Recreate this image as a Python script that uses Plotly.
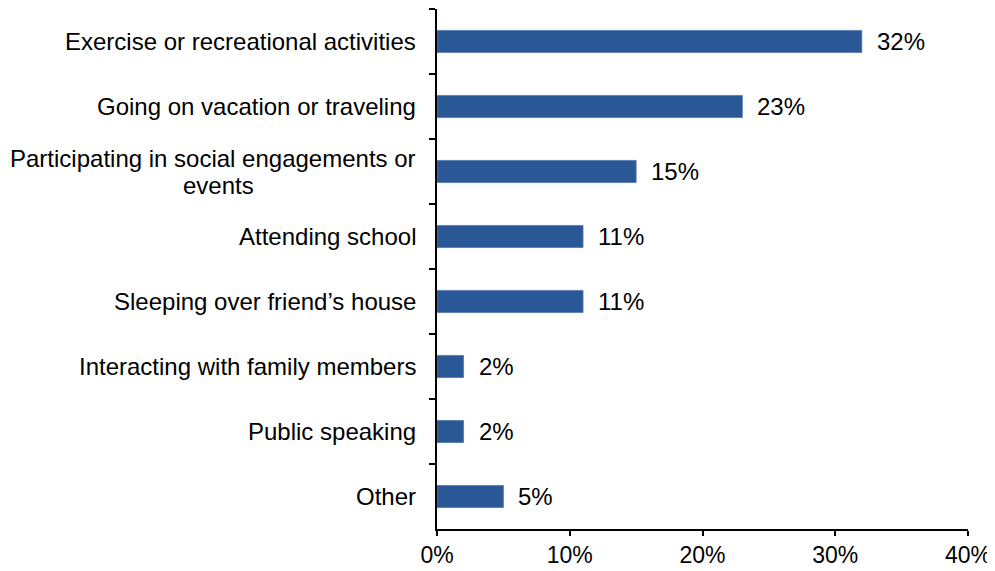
import plotly.graph_objects as go

categories = [
    "Exercise or recreational activities",
    "Going on vacation or traveling",
    "Participating in social engagements or<br>events",
    "Attending school",
    "Sleeping over friend’s house",
    "Interacting with family members",
    "Public speaking",
    "Other",
]
values = [32, 23, 15, 11, 11, 2, 2, 5]
x_ticks = [0, 10, 20, 30, 40]
x_tick_labels = ["0%", "10%", "20%", "30%", "40%"]

FONT = "Liberation Sans, Arial, sans-serif"
BAR_COLOR = "#2A5896"

fig = go.Figure(
    go.Bar(
        x=values,
        y=categories,
        orientation="h",
        width=0.34,
        marker=dict(color=BAR_COLOR, line=dict(color="#4F78B0", width=0.8)),
        hoverinfo="skip",
    )
)

annotations = []
for cat, val in zip(categories, values):
    annotations.append(
        dict(
            x=val, y=cat, xref="x", yref="y",
            text=f"{val}%", showarrow=False,
            xanchor="left", yanchor="middle", xshift=13,
            font=dict(family=FONT, size=24, color="#000000"),
        )
    )
    lines = cat.split("<br>")
    n = len(lines)
    for i, line in enumerate(lines):
        annotations.append(
            dict(
                x=0, y=cat, xref="paper", yref="y",
                text=line, showarrow=False,
                xanchor="right" if i == 0 else "center",
                yanchor="middle",
                xshift=-19 if i == 0 else -219,
                yshift=(n - 1) * 13.5 - i * 27,
                font=dict(family=FONT, size=24, color="#000000"),
            )
        )

# page body has an 8px default margin: figure sized so it fits the window
fig.update_layout(
    width=987, height=563,
    margin=dict(l=429, r=27, t=1, b=42),
    paper_bgcolor="white", plot_bgcolor="white",
    showlegend=False,
    font=dict(family=FONT, size=24, color="#000000"),
    annotations=annotations,
)
fig.update_xaxes(
    range=[0, 40],
    tickvals=x_ticks, ticktext=x_tick_labels,
    showgrid=False, zeroline=False,
    showline=True, linecolor="#000000", linewidth=1.5,
    ticks="outside", ticklen=5, tickcolor="#000000", tickwidth=1.5,
    tickfont=dict(family=FONT, size=23, color="#000000"),
)
fig.update_yaxes(
    categoryorder="array", categoryarray=categories,
    autorange="reversed",
    showgrid=False, zeroline=False,
    showline=True, linecolor="#000000", linewidth=1.5,
    ticks="outside", ticklen=6, tickcolor="#000000", tickwidth=1.5,
    tickson="boundaries",
    showticklabels=False,
)

fig.write_html("out.html")
